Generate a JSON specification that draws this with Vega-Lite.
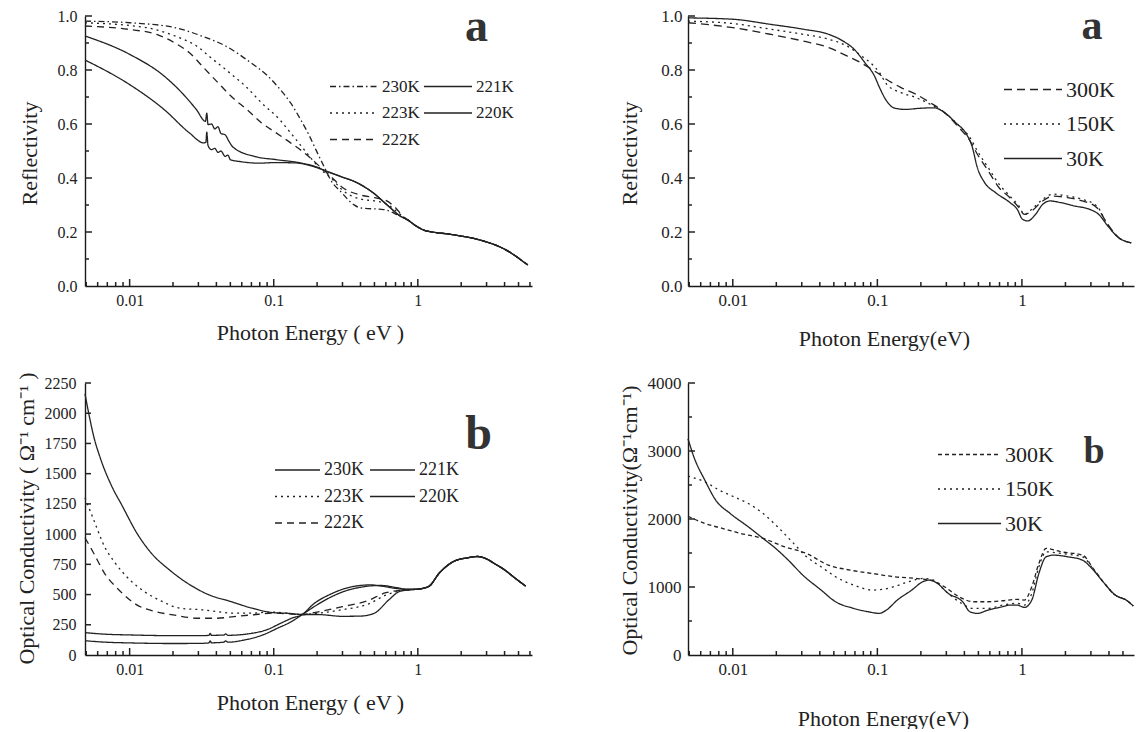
{
  "$schema": "https://vega.github.io/schema/vega-lite/v6.json",
  "background": "white",
  "padding": {"left": 14, "top": 4, "right": 0, "bottom": 0},
  "bounds": "flush",
  "columns": 2,
  "spacing": {"row": 97, "column": 156},
  "resolve": {"scale": {"strokeDash": "independent"}, "legend": {"strokeDash": "independent"}},
  "config": {
    "view": {"stroke": null},
    "font": "Liberation Serif",
    "axis": {"grid": false, "domainColor": "#1a1a1a", "domainWidth": 1.4, "labelFont": "Liberation Serif", "labelColor": "#222", "titleFont": "Liberation Serif", "titleFontWeight": "normal", "titleColor": "#222", "labelOverlap": false, "labelBound": false, "labelFlush": false, "titleAlign": "center", "titleBaseline": "middle"},
    "legend": {"symbolType": "stroke", "symbolStrokeWidth": 1.3, "symbolStrokeColor": "#222", "labelFont": "Liberation Serif", "labelColor": "#222", "padding": 0, "labelOffset": 3, "orient": "none"},
    "text": {"font": "Liberation Serif", "fontWeight": "bold", "align": "center", "baseline": "alphabetic", "color": "#333"},
    "rule": {"color": "#222", "strokeWidth": 1.5},
    "line": {"strokeWidth": 1.3, "color": "#222", "interpolate": "monotone"}
  },
  "concat": [
    {
      "width": 447, "height": 270,
      "data": {"name": "tl"},
      "resolve": {"axis": {"x": "independent", "y": "independent"}},
      "layer": [
        {
          "mark": {"type": "line"},
          "encoding": {
            "x": {"field": "E", "type": "quantitative", "scale": {"type": "log", "domain": [0.0049, 6.2], "nice": false},
              "axis": {"orient": "bottom", "title": "Photon Energy ( eV )", "values": [0.01, 0.1, 1], "ticks": false,
                "labelExpr": "datum.value==0.01 ? '0.01' : datum.value==0.1 ? '0.1' : '1'",
                "labelPadding": 6, "labelFontSize": 16, "titleFontSize": 22, "titleX": 225, "titleY": 46}},
            "y": {"field": "v", "type": "quantitative", "scale": {"domain": [0, 1], "nice": false},
              "axis": {"orient": "left", "title": "Reflectivity", "values": [0, 0.2, 0.4, 0.6, 0.8, 1], "ticks": false,
                "labelExpr": "format(datum.value,'.1f')",
                "labelPadding": 8, "labelFontSize": 16, "titleFontSize": 22, "titleX": -56, "titleY": 137, "titleAngle": 270}},
            "strokeDash": {"field": "s", "type": "nominal",
              "scale": {"domain": ["230K","223K","222K","221K","220K"], "range": [[6,3,1.5,3],[2,4],[7,5],[1,0],[1,0]]},
              "legend": {"title": null, "columns": 2, "legendX": 244, "legendY": 62, "symbolSize": 2304, "clipHeight": 17, "rowPadding": 8.5, "columnPadding": 3, "labelFontSize": 17}}
          }
        },
        {
          "data": {"values": [{"t": 0.01}, {"t": 0.1}, {"t": 1}]},
          "mark": {"type": "rule"},
          "encoding": {
            "x": {"field": "t", "type": "quantitative", "scale": {"type": "log", "domain": [0.0049, 6.2], "nice": false}, "axis": null},
            "y": {"datum": 0, "type": "quantitative", "scale": {"domain": [0, 1], "nice": false}, "axis": null},
            "y2": {"datum": 0.0259}
          }
        },
        {
          "data": {"values": [{"t":0.005},{"t":0.006},{"t":0.007},{"t":0.008},{"t":0.009},{"t":0.02},{"t":0.03},{"t":0.04},{"t":0.05},{"t":0.06},{"t":0.07},{"t":0.08},{"t":0.09},{"t":0.2},{"t":0.3},{"t":0.4},{"t":0.5},{"t":0.6},{"t":0.7},{"t":0.8},{"t":0.9},{"t":2},{"t":3},{"t":4},{"t":5},{"t":6}]},
          "mark": {"type": "rule"},
          "encoding": {
            "x": {"field": "t", "type": "quantitative", "scale": {"type": "log", "domain": [0.0049, 6.2], "nice": false}, "axis": null},
            "y": {"datum": 0, "type": "quantitative", "scale": {"domain": [0, 1], "nice": false}, "axis": null},
            "y2": {"datum": 0.0148}
          }
        },
        {
          "data": {"values": [{"t": 0.2}, {"t": 0.4}, {"t": 0.6}, {"t": 0.8}, {"t": 1}]},
          "mark": {"type": "rule"},
          "encoding": {
            "y": {"field": "t", "type": "quantitative", "scale": {"domain": [0, 1], "nice": false}, "axis": null},
            "x": {"datum": 0.0049, "type": "quantitative", "scale": {"type": "log", "domain": [0.0049, 6.2], "nice": false}, "axis": null},
            "x2": {"datum": 0.00548}
          }
        },
        {
          "data": {"values": [{"t": 0.1}, {"t": 0.3}, {"t": 0.5}, {"t": 0.7}, {"t": 0.9}]},
          "mark": {"type": "rule"},
          "encoding": {
            "y": {"field": "t", "type": "quantitative", "scale": {"domain": [0, 1], "nice": false}, "axis": null},
            "x": {"datum": 0.0049, "type": "quantitative", "scale": {"type": "log", "domain": [0.0049, 6.2], "nice": false}, "axis": null},
            "x2": {"datum": 0.005223}
          }
        },
        {
          "data": {"values": [{}]},
          "mark": {"type": "text", "text": "a", "fontSize": 46},
          "encoding": {
            "x": {"datum": 2.55, "type": "quantitative", "scale": {"type": "log", "domain": [0.0049, 6.2], "nice": false}, "axis": null},
            "y": {"datum": 0.907, "type": "quantitative", "scale": {"domain": [0, 1], "nice": false}, "axis": null}
          }
        }
      ]
    },
    {
      "width": 446, "height": 270,
      "data": {"name": "tr"},
      "resolve": {"axis": {"x": "independent", "y": "independent"}},
      "layer": [
        {
          "mark": {"type": "line"},
          "encoding": {
            "x": {"field": "E", "type": "quantitative", "scale": {"type": "log", "domain": [0.0049, 5.96], "nice": false},
              "axis": {"orient": "bottom", "title": "Photon Energy(eV)", "values": [0.01, 0.1, 1], "ticks": false,
                "labelExpr": "datum.value==0.01 ? '0.01' : datum.value==0.1 ? '0.1' : '1'",
                "labelPadding": 6, "labelFontSize": 17, "titleFontSize": 22, "titleX": 196, "titleY": 52}},
            "y": {"field": "v", "type": "quantitative", "scale": {"domain": [0, 1], "nice": false},
              "axis": {"orient": "left", "title": "Reflectivity", "values": [0, 0.2, 0.4, 0.6, 0.8, 1], "ticks": false,
                "labelExpr": "format(datum.value,'.1f')",
                "labelPadding": 6, "labelFontSize": 17, "titleFontSize": 22, "titleX": -59, "titleY": 137, "titleAngle": 270}},
            "strokeDash": {"field": "s", "type": "nominal",
              "scale": {"domain": ["300K","150K","30K"], "range": [[8,5],[2,4],[1,0]]},
              "legend": {"title": null, "columns": 1, "legendX": 315, "legendY": 63, "symbolSize": 3364, "clipHeight": 21, "rowPadding": 11.5, "labelFontSize": 22}}
          }
        },
        {
          "data": {"values": [{"t": 0.01}, {"t": 0.1}, {"t": 1}]},
          "mark": {"type": "rule"},
          "encoding": {
            "x": {"field": "t", "type": "quantitative", "scale": {"type": "log", "domain": [0.0049, 5.96], "nice": false}, "axis": null},
            "y": {"datum": 0, "type": "quantitative", "scale": {"domain": [0, 1], "nice": false}, "axis": null},
            "y2": {"datum": 0.0259}
          }
        },
        {
          "data": {"values": [{"t":0.005},{"t":0.006},{"t":0.007},{"t":0.008},{"t":0.009},{"t":0.02},{"t":0.03},{"t":0.04},{"t":0.05},{"t":0.06},{"t":0.07},{"t":0.08},{"t":0.09},{"t":0.2},{"t":0.3},{"t":0.4},{"t":0.5},{"t":0.6},{"t":0.7},{"t":0.8},{"t":0.9},{"t":2},{"t":3},{"t":4},{"t":5}]},
          "mark": {"type": "rule"},
          "encoding": {
            "x": {"field": "t", "type": "quantitative", "scale": {"type": "log", "domain": [0.0049, 5.96], "nice": false}, "axis": null},
            "y": {"datum": 0, "type": "quantitative", "scale": {"domain": [0, 1], "nice": false}, "axis": null},
            "y2": {"datum": 0.0148}
          }
        },
        {
          "data": {"values": [{"t": 0.2}, {"t": 0.4}, {"t": 0.6}, {"t": 0.8}, {"t": 1}]},
          "mark": {"type": "rule"},
          "encoding": {
            "y": {"field": "t", "type": "quantitative", "scale": {"domain": [0, 1], "nice": false}, "axis": null},
            "x": {"datum": 0.0049, "type": "quantitative", "scale": {"type": "log", "domain": [0.0049, 5.96], "nice": false}, "axis": null},
            "x2": {"datum": 0.005478}
          }
        },
        {
          "data": {"values": [{"t": 0.1}, {"t": 0.3}, {"t": 0.5}, {"t": 0.7}, {"t": 0.9}]},
          "mark": {"type": "rule"},
          "encoding": {
            "y": {"field": "t", "type": "quantitative", "scale": {"domain": [0, 1], "nice": false}, "axis": null},
            "x": {"datum": 0.0049, "type": "quantitative", "scale": {"type": "log", "domain": [0.0049, 5.96], "nice": false}, "axis": null},
            "x2": {"datum": 0.005222}
          }
        },
        {
          "data": {"values": [{}]},
          "mark": {"type": "text", "text": "a", "fontSize": 42},
          "encoding": {
            "x": {"datum": 3.05, "type": "quantitative", "scale": {"type": "log", "domain": [0.0049, 5.96], "nice": false}, "axis": null},
            "y": {"datum": 0.915, "type": "quantitative", "scale": {"domain": [0, 1], "nice": false}, "axis": null}
          }
        }
      ]
    },
    {
      "width": 447, "height": 272,
      "data": {"name": "bl"},
      "resolve": {"axis": {"x": "independent", "y": "independent"}},
      "layer": [
        {
          "mark": {"type": "line"},
          "encoding": {
            "x": {"field": "E", "type": "quantitative", "scale": {"type": "log", "domain": [0.0049, 6.2], "nice": false},
              "axis": {"orient": "bottom", "title": "Photon Energy ( eV )", "values": [0.01, 0.1, 1], "ticks": false,
                "labelExpr": "datum.value==0.01 ? '0.01' : datum.value==0.1 ? '0.1' : '1'",
                "labelPadding": 6, "labelFontSize": 16, "titleFontSize": 22, "titleX": 225, "titleY": 47}},
            "y": {"field": "v", "type": "quantitative", "scale": {"domain": [0, 2250], "nice": false},
              "axis": {"orient": "left", "title": "Optical Conductivity ( Ω⁻¹ cm⁻¹ )", "values": [0,250,500,750,1000,1250,1500,1750,2000,2250], "ticks": false,
                "labelExpr": "format(datum.value,'d')",
                "labelPadding": 9, "labelFontSize": 16, "titleFontSize": 22, "titleX": -59, "titleY": 135, "titleAngle": 270}},
            "strokeDash": {"field": "s", "type": "nominal",
              "scale": {"domain": ["230K","223K","222K","221K","220K"], "range": [[1,0],[2,4],[7,5],[1,0],[1,0]]},
              "legend": {"title": null, "columns": 2, "legendX": 189, "legendY": 78, "symbolSize": 2025, "clipHeight": 18, "rowPadding": 8.5, "columnPadding": 5, "labelFontSize": 18}}
          }
        },
        {
          "data": {"values": [{"t": 0.01}, {"t": 0.1}, {"t": 1}]},
          "mark": {"type": "rule"},
          "encoding": {
            "x": {"field": "t", "type": "quantitative", "scale": {"type": "log", "domain": [0.0049, 6.2], "nice": false}, "axis": null},
            "y": {"datum": 0, "type": "quantitative", "scale": {"domain": [0, 2250], "nice": false}, "axis": null},
            "y2": {"datum": 58}
          }
        },
        {
          "data": {"values": [{"t":0.005},{"t":0.006},{"t":0.007},{"t":0.008},{"t":0.009},{"t":0.02},{"t":0.03},{"t":0.04},{"t":0.05},{"t":0.06},{"t":0.07},{"t":0.08},{"t":0.09},{"t":0.2},{"t":0.3},{"t":0.4},{"t":0.5},{"t":0.6},{"t":0.7},{"t":0.8},{"t":0.9},{"t":2},{"t":3},{"t":4},{"t":5},{"t":6}]},
          "mark": {"type": "rule"},
          "encoding": {
            "x": {"field": "t", "type": "quantitative", "scale": {"type": "log", "domain": [0.0049, 6.2], "nice": false}, "axis": null},
            "y": {"datum": 0, "type": "quantitative", "scale": {"domain": [0, 2250], "nice": false}, "axis": null},
            "y2": {"datum": 33}
          }
        },
        {
          "data": {"values": [{"t":250},{"t":500},{"t":750},{"t":1000},{"t":1250},{"t":1500},{"t":1750},{"t":2000},{"t":2250}]},
          "mark": {"type": "rule"},
          "encoding": {
            "y": {"field": "t", "type": "quantitative", "scale": {"domain": [0, 2250], "nice": false}, "axis": null},
            "x": {"datum": 0.0049, "type": "quantitative", "scale": {"type": "log", "domain": [0.0049, 6.2], "nice": false}, "axis": null},
            "x2": {"datum": 0.005393}
          }
        },
        {
          "data": {"values": [{}]},
          "mark": {"type": "text", "text": "b", "fontSize": 48},
          "encoding": {
            "x": {"datum": 2.64, "type": "quantitative", "scale": {"type": "log", "domain": [0.0049, 6.2], "nice": false}, "axis": null},
            "y": {"datum": 1702, "type": "quantitative", "scale": {"domain": [0, 2250], "nice": false}, "axis": null}
          }
        }
      ]
    },
    {
      "width": 446, "height": 272,
      "data": {"name": "br"},
      "resolve": {"axis": {"x": "independent", "y": "independent"}},
      "layer": [
        {
          "mark": {"type": "line"},
          "encoding": {
            "x": {"field": "E", "type": "quantitative", "scale": {"type": "log", "domain": [0.0049, 5.96], "nice": false},
              "axis": {"orient": "bottom", "title": "Photon Energy(eV)", "values": [0.01, 0.1, 1], "ticks": false,
                "labelExpr": "datum.value==0.01 ? '0.01' : datum.value==0.1 ? '0.1' : '1'",
                "labelPadding": 6, "labelFontSize": 17, "titleFontSize": 22, "titleX": 195, "titleY": 63}},
            "y": {"field": "v", "type": "quantitative", "scale": {"domain": [0, 4000], "nice": false},
              "axis": {"orient": "left", "title": "Optical Conductivity(Ω⁻¹cm⁻¹)", "values": [0,1000,2000,3000,4000], "ticks": false,
                "labelExpr": "format(datum.value,'d')",
                "labelPadding": 7, "labelFontSize": 17, "titleFontSize": 22, "titleX": -59, "titleY": 137, "titleAngle": 270}},
            "strokeDash": {"field": "s", "type": "nominal",
              "scale": {"domain": ["300K","150K","30K"], "range": [[4,3],[2,4],[1,0]]},
              "legend": {"title": null, "columns": 1, "legendX": 249, "legendY": 61, "symbolSize": 3969, "clipHeight": 21, "rowPadding": 11.5, "labelFontSize": 22}}
          }
        },
        {
          "data": {"values": [{"t": 0.01}, {"t": 0.1}, {"t": 1}]},
          "mark": {"type": "rule"},
          "encoding": {
            "x": {"field": "t", "type": "quantitative", "scale": {"type": "log", "domain": [0.0049, 5.96], "nice": false}, "axis": null},
            "y": {"datum": 0, "type": "quantitative", "scale": {"domain": [0, 4000], "nice": false}, "axis": null},
            "y2": {"datum": 103}
          }
        },
        {
          "data": {"values": [{"t":0.005},{"t":0.006},{"t":0.007},{"t":0.008},{"t":0.009},{"t":0.02},{"t":0.03},{"t":0.04},{"t":0.05},{"t":0.06},{"t":0.07},{"t":0.08},{"t":0.09},{"t":0.2},{"t":0.3},{"t":0.4},{"t":0.5},{"t":0.6},{"t":0.7},{"t":0.8},{"t":0.9},{"t":2},{"t":3},{"t":4},{"t":5}]},
          "mark": {"type": "rule"},
          "encoding": {
            "x": {"field": "t", "type": "quantitative", "scale": {"type": "log", "domain": [0.0049, 5.96], "nice": false}, "axis": null},
            "y": {"datum": 0, "type": "quantitative", "scale": {"domain": [0, 4000], "nice": false}, "axis": null},
            "y2": {"datum": 59}
          }
        },
        {
          "data": {"values": [{"t":1000},{"t":2000},{"t":3000},{"t":4000}]},
          "mark": {"type": "rule"},
          "encoding": {
            "y": {"field": "t", "type": "quantitative", "scale": {"domain": [0, 4000], "nice": false}, "axis": null},
            "x": {"datum": 0.0049, "type": "quantitative", "scale": {"type": "log", "domain": [0.0049, 5.96], "nice": false}, "axis": null},
            "x2": {"datum": 0.005478}
          }
        },
        {
          "data": {"values": [{"t":500},{"t":1500},{"t":2500},{"t":3500}]},
          "mark": {"type": "rule"},
          "encoding": {
            "y": {"field": "t", "type": "quantitative", "scale": {"domain": [0, 4000], "nice": false}, "axis": null},
            "x": {"datum": 0.0049, "type": "quantitative", "scale": {"type": "log", "domain": [0.0049, 5.96], "nice": false}, "axis": null},
            "x2": {"datum": 0.005222}
          }
        },
        {
          "data": {"values": [{}]},
          "mark": {"type": "text", "text": "b", "fontSize": 38},
          "encoding": {
            "x": {"datum": 3.15, "type": "quantitative", "scale": {"type": "log", "domain": [0.0049, 5.96], "nice": false}, "axis": null},
            "y": {"datum": 2824, "type": "quantitative", "scale": {"domain": [0, 4000], "nice": false}, "axis": null}
          }
        }
      ]
    }
  ],
  "datasets": {
    "tl": [
      {"s":"230K","E":0.0049,"v":0.981},{"s":"230K","E":0.01,"v":0.975},{"s":"230K","E":0.0206,"v":0.957},{"s":"230K","E":0.0327,"v":0.923},{"s":"230K","E":0.0463,"v":0.889},{"s":"230K","E":0.0693,"v":0.827},{"s":"230K","E":0.09,"v":0.78},{"s":"230K","E":0.11,"v":0.73},{"s":"230K","E":0.131,"v":0.678},{"s":"230K","E":0.156,"v":0.61},{"s":"230K","E":0.175,"v":0.561},{"s":"230K","E":0.196,"v":0.505},{"s":"230K","E":0.226,"v":0.437},{"s":"230K","E":0.25,"v":0.39},{"s":"230K","E":0.29,"v":0.351},{"s":"230K","E":0.36,"v":0.301},{"s":"230K","E":0.4,"v":0.289},{"s":"230K","E":0.58,"v":0.283},{"s":"230K","E":0.72,"v":0.264},{"s":"230K","E":0.8,"v":0.252},
      {"s":"230K","E":0.85,"v":0.245},{"s":"230K","E":0.95,"v":0.226},{"s":"230K","E":1.1,"v":0.207},{"s":"230K","E":1.3,"v":0.199},{"s":"230K","E":1.6,"v":0.193},{"s":"230K","E":2.0,"v":0.185},{"s":"230K","E":2.5,"v":0.175},{"s":"230K","E":3.0,"v":0.163},{"s":"230K","E":3.6,"v":0.148},{"s":"230K","E":4.2,"v":0.13},{"s":"230K","E":4.8,"v":0.11},{"s":"230K","E":5.4,"v":0.09},{"s":"230K","E":5.8,"v":0.078},
      {"s":"223K","E":0.0049,"v":0.975},{"s":"223K","E":0.013,"v":0.957},{"s":"223K","E":0.0206,"v":0.926},{"s":"223K","E":0.0291,"v":0.889},{"s":"223K","E":0.0367,"v":0.845},{"s":"223K","E":0.0463,"v":0.802},{"s":"223K","E":0.0654,"v":0.734},{"s":"223K","E":0.0824,"v":0.678},{"s":"223K","E":0.11,"v":0.616},{"s":"223K","E":0.131,"v":0.567},{"s":"223K","E":0.156,"v":0.517},{"s":"223K","E":0.185,"v":0.468},{"s":"223K","E":0.214,"v":0.43},{"s":"223K","E":0.25,"v":0.4},{"s":"223K","E":0.3,"v":0.355},{"s":"223K","E":0.4,"v":0.322},{"s":"223K","E":0.5,"v":0.315},{"s":"223K","E":0.6,"v":0.305},{"s":"223K","E":0.7,"v":0.28},{"s":"223K","E":0.8,"v":0.255},
      {"s":"223K","E":0.85,"v":0.245},{"s":"223K","E":0.95,"v":0.226},{"s":"223K","E":1.1,"v":0.207},{"s":"223K","E":1.3,"v":0.199},{"s":"223K","E":1.6,"v":0.193},{"s":"223K","E":2.0,"v":0.185},{"s":"223K","E":2.5,"v":0.175},{"s":"223K","E":3.0,"v":0.163},{"s":"223K","E":3.6,"v":0.148},{"s":"223K","E":4.2,"v":0.13},{"s":"223K","E":4.8,"v":0.11},{"s":"223K","E":5.4,"v":0.09},{"s":"223K","E":5.8,"v":0.078},
      {"s":"222K","E":0.0049,"v":0.963},{"s":"222K","E":0.01,"v":0.95},{"s":"222K","E":0.0154,"v":0.932},{"s":"222K","E":0.0206,"v":0.9},{"s":"222K","E":0.026,"v":0.864},{"s":"222K","E":0.0327,"v":0.808},{"s":"222K","E":0.0412,"v":0.752},{"s":"222K","E":0.0519,"v":0.697},{"s":"222K","E":0.0654,"v":0.653},{"s":"222K","E":0.0824,"v":0.604},{"s":"222K","E":0.104,"v":0.567},{"s":"222K","E":0.131,"v":0.53},{"s":"222K","E":0.175,"v":0.48},{"s":"222K","E":0.208,"v":0.443},{"s":"222K","E":0.25,"v":0.405},{"s":"222K","E":0.3,"v":0.365},{"s":"222K","E":0.4,"v":0.337},{"s":"222K","E":0.5,"v":0.327},{"s":"222K","E":0.6,"v":0.317},{"s":"222K","E":0.7,"v":0.29},{"s":"222K","E":0.8,"v":0.255},
      {"s":"222K","E":0.85,"v":0.245},{"s":"222K","E":0.95,"v":0.226},{"s":"222K","E":1.1,"v":0.207},{"s":"222K","E":1.3,"v":0.199},{"s":"222K","E":1.6,"v":0.193},{"s":"222K","E":2.0,"v":0.185},{"s":"222K","E":2.5,"v":0.175},{"s":"222K","E":3.0,"v":0.163},{"s":"222K","E":3.6,"v":0.148},{"s":"222K","E":4.2,"v":0.13},{"s":"222K","E":4.8,"v":0.11},{"s":"222K","E":5.4,"v":0.09},{"s":"222K","E":5.8,"v":0.078},
      {"s":"221K","E":0.0049,"v":0.926},{"s":"221K","E":0.01,"v":0.858},{"s":"221K","E":0.0174,"v":0.777},{"s":"221K","E":0.0231,"v":0.715},{"s":"221K","E":0.0291,"v":0.653},{"s":"221K","E":0.0336,"v":0.61},{"s":"221K","E":0.0343,"v":0.64},{"s":"221K","E":0.035,"v":0.598},{"s":"221K","E":0.037,"v":0.6},{"s":"221K","E":0.039,"v":0.582},{"s":"221K","E":0.041,"v":0.59},{"s":"221K","E":0.043,"v":0.565},{"s":"221K","E":0.046,"v":0.56},{"s":"221K","E":0.049,"v":0.535},{"s":"221K","E":0.052,"v":0.515},{"s":"221K","E":0.0734,"v":0.48},{"s":"221K","E":0.104,"v":0.468},{"s":"221K","E":0.156,"v":0.455},{"s":"221K","E":0.2,"v":0.44},{"s":"221K","E":0.22,"v":0.43},
      {"s":"221K","E":0.29,"v":0.406},{"s":"221K","E":0.38,"v":0.382},{"s":"221K","E":0.49,"v":0.345},{"s":"221K","E":0.61,"v":0.301},{"s":"221K","E":0.76,"v":0.258},
      {"s":"221K","E":0.85,"v":0.245},{"s":"221K","E":0.95,"v":0.226},{"s":"221K","E":1.1,"v":0.207},{"s":"221K","E":1.3,"v":0.199},{"s":"221K","E":1.6,"v":0.193},{"s":"221K","E":2.0,"v":0.185},{"s":"221K","E":2.5,"v":0.175},{"s":"221K","E":3.0,"v":0.163},{"s":"221K","E":3.6,"v":0.148},{"s":"221K","E":4.2,"v":0.13},{"s":"221K","E":4.8,"v":0.11},{"s":"221K","E":5.4,"v":0.09},{"s":"221K","E":5.8,"v":0.078},
      {"s":"220K","E":0.0049,"v":0.837},{"s":"220K","E":0.01,"v":0.746},{"s":"220K","E":0.0174,"v":0.653},{"s":"220K","E":0.026,"v":0.567},{"s":"220K","E":0.0327,"v":0.53},{"s":"220K","E":0.0338,"v":0.532},{"s":"220K","E":0.0343,"v":0.57},{"s":"220K","E":0.035,"v":0.52},{"s":"220K","E":0.037,"v":0.505},{"s":"220K","E":0.039,"v":0.51},{"s":"220K","E":0.041,"v":0.495},{"s":"220K","E":0.043,"v":0.5},{"s":"220K","E":0.046,"v":0.48},{"s":"220K","E":0.048,"v":0.485},{"s":"220K","E":0.05,"v":0.468},{"s":"220K","E":0.06,"v":0.46},{"s":"220K","E":0.08,"v":0.455},{"s":"220K","E":0.1,"v":0.457},{"s":"220K","E":0.14,"v":0.456},{"s":"220K","E":0.2,"v":0.438},{"s":"220K","E":0.22,"v":0.43},
      {"s":"220K","E":0.29,"v":0.406},{"s":"220K","E":0.38,"v":0.382},{"s":"220K","E":0.49,"v":0.345},{"s":"220K","E":0.61,"v":0.301},{"s":"220K","E":0.76,"v":0.258},
      {"s":"220K","E":0.85,"v":0.245},{"s":"220K","E":0.95,"v":0.226},{"s":"220K","E":1.1,"v":0.207},{"s":"220K","E":1.3,"v":0.199},{"s":"220K","E":1.6,"v":0.193},{"s":"220K","E":2.0,"v":0.185},{"s":"220K","E":2.5,"v":0.175},{"s":"220K","E":3.0,"v":0.163},{"s":"220K","E":3.6,"v":0.148},{"s":"220K","E":4.2,"v":0.13},{"s":"220K","E":4.8,"v":0.11},{"s":"220K","E":5.4,"v":0.09},{"s":"220K","E":5.8,"v":0.078}
    ],
    "tr": [
      {"s":"30K","E":0.0049,"v":0.993},{"s":"30K","E":0.01,"v":0.988},{"s":"30K","E":0.0183,"v":0.969},{"s":"30K","E":0.0308,"v":0.951},{"s":"30K","E":0.0461,"v":0.932},{"s":"30K","E":0.058,"v":0.907},{"s":"30K","E":0.069,"v":0.877},{"s":"30K","E":0.082,"v":0.827},{"s":"30K","E":0.0955,"v":0.778},{"s":"30K","E":0.1035,"v":0.735},{"s":"30K","E":0.116,"v":0.685},{"s":"30K","E":0.13,"v":0.66},{"s":"30K","E":0.155,"v":0.654},{"s":"30K","E":0.195,"v":0.658},{"s":"30K","E":0.246,"v":0.66},{"s":"30K","E":0.292,"v":0.642},{"s":"30K","E":0.348,"v":0.605},{"s":"30K","E":0.414,"v":0.562},{"s":"30K","E":0.451,"v":0.519},{"s":"30K","E":0.492,"v":0.438},{"s":"30K","E":0.552,"v":0.383},{"s":"30K","E":0.656,"v":0.346},{"s":"30K","E":0.826,"v":0.309},{"s":"30K","E":0.928,"v":0.284},{"s":"30K","E":1.01,"v":0.247},{"s":"30K","E":1.1,"v":0.241},{"s":"30K","E":1.24,"v":0.265},{"s":"30K","E":1.39,"v":0.302},{"s":"30K","E":1.56,"v":0.315},{"s":"30K","E":1.85,"v":0.309},{"s":"30K","E":2.33,"v":0.296},{"s":"30K","E":2.94,"v":0.284},{"s":"30K","E":3.4,"v":0.265},{"s":"30K","E":3.93,"v":0.222},{"s":"30K","E":4.67,"v":0.179},{"s":"30K","E":5.7,"v":0.16},
      {"s":"300K","E":0.0049,"v":0.975},{"s":"300K","E":0.01,"v":0.957},{"s":"300K","E":0.0183,"v":0.932},{"s":"300K","E":0.0308,"v":0.907},{"s":"300K","E":0.0461,"v":0.883},{"s":"300K","E":0.0616,"v":0.852},{"s":"300K","E":0.0732,"v":0.833},{"s":"300K","E":0.092,"v":0.802},{"s":"300K","E":0.1035,"v":0.784},{"s":"300K","E":0.116,"v":0.765},{"s":"300K","E":0.146,"v":0.735},{"s":"300K","E":0.185,"v":0.71},{"s":"300K","E":0.232,"v":0.679},{"s":"300K","E":0.292,"v":0.642},{"s":"300K","E":0.368,"v":0.586},{"s":"300K","E":0.438,"v":0.537},{"s":"300K","E":0.492,"v":0.488},{"s":"300K","E":0.585,"v":0.426},{"s":"300K","E":0.695,"v":0.364},{"s":"300K","E":0.826,"v":0.327},{"s":"300K","E":0.955,"v":0.29},{"s":"300K","E":1.04,"v":0.265},{"s":"300K","E":1.17,"v":0.278},{"s":"300K","E":1.39,"v":0.315},{"s":"300K","E":1.65,"v":0.333},{"s":"300K","E":2.08,"v":0.327},{"s":"300K","E":2.62,"v":0.315},{"s":"300K","E":3.3,"v":0.29},{"s":"300K","E":3.93,"v":0.228},{"s":"300K","E":4.67,"v":0.179},{"s":"300K","E":5.7,"v":0.16},
      {"s":"150K","E":0.0049,"v":0.981},{"s":"150K","E":0.01,"v":0.972},{"s":"150K","E":0.0183,"v":0.951},{"s":"150K","E":0.0308,"v":0.932},{"s":"150K","E":0.0461,"v":0.914},{"s":"150K","E":0.0616,"v":0.889},{"s":"150K","E":0.0776,"v":0.852},{"s":"150K","E":0.092,"v":0.821},{"s":"150K","E":0.1035,"v":0.79},{"s":"150K","E":0.116,"v":0.747},{"s":"150K","E":0.146,"v":0.716},{"s":"150K","E":0.185,"v":0.698},{"s":"150K","E":0.232,"v":0.673},{"s":"150K","E":0.292,"v":0.642},{"s":"150K","E":0.368,"v":0.593},{"s":"150K","E":0.438,"v":0.549},{"s":"150K","E":0.492,"v":0.5},{"s":"150K","E":0.585,"v":0.438},{"s":"150K","E":0.695,"v":0.377},{"s":"150K","E":0.826,"v":0.333},{"s":"150K","E":0.955,"v":0.296},{"s":"150K","E":1.04,"v":0.265},{"s":"150K","E":1.17,"v":0.284},{"s":"150K","E":1.39,"v":0.321},{"s":"150K","E":1.65,"v":0.34},{"s":"150K","E":2.08,"v":0.333},{"s":"150K","E":2.62,"v":0.321},{"s":"150K","E":3.3,"v":0.296},{"s":"150K","E":3.93,"v":0.225},{"s":"150K","E":4.67,"v":0.179},{"s":"150K","E":5.7,"v":0.16}
    ],
    "bl": [
      {"s":"230K","E":0.0049,"v":2160},{"s":"230K","E":0.0052,"v":2000},{"s":"230K","E":0.00562,"v":1813},{"s":"230K","E":0.0063,"v":1619},{"s":"230K","E":0.0075,"v":1398},{"s":"230K","E":0.0089,"v":1232},{"s":"230K","E":0.0112,"v":1010},{"s":"230K","E":0.0141,"v":844},{"s":"230K","E":0.0188,"v":706},{"s":"230K","E":0.0251,"v":595},{"s":"230K","E":0.0355,"v":498},{"s":"230K","E":0.0501,"v":443},{"s":"230K","E":0.0708,"v":387},{"s":"230K","E":0.1,"v":350},{"s":"230K","E":0.126,"v":345},{"s":"230K","E":0.158,"v":335},{"s":"230K","E":0.2,"v":335},{"s":"230K","E":0.3,"v":320},{"s":"230K","E":0.4,"v":322},{"s":"230K","E":0.5,"v":346},{"s":"230K","E":0.63,"v":457},{"s":"230K","E":0.75,"v":526},{"s":"230K","E":0.9,"v":540},
      {"s":"230K","E":1.0,"v":545},{"s":"230K","E":1.19,"v":567},{"s":"230K","E":1.41,"v":678},{"s":"230K","E":1.78,"v":775},{"s":"230K","E":2.24,"v":805},{"s":"230K","E":2.6,"v":815},{"s":"230K","E":3.0,"v":795},{"s":"230K","E":3.35,"v":761},{"s":"230K","E":3.98,"v":706},{"s":"230K","E":4.73,"v":636},{"s":"230K","E":5.6,"v":570},
      {"s":"223K","E":0.0049,"v":1300},{"s":"223K","E":0.00562,"v":1121},{"s":"223K","E":0.00668,"v":899},{"s":"223K","E":0.00794,"v":761},{"s":"223K","E":0.01,"v":623},{"s":"223K","E":0.0126,"v":526},{"s":"223K","E":0.0168,"v":443},{"s":"223K","E":0.0224,"v":387},{"s":"223K","E":0.0316,"v":374},{"s":"223K","E":0.0398,"v":360},{"s":"223K","E":0.0531,"v":346},{"s":"223K","E":0.0708,"v":346},{"s":"223K","E":0.0944,"v":355},{"s":"223K","E":0.126,"v":345},{"s":"223K","E":0.158,"v":335},{"s":"223K","E":0.2,"v":345},{"s":"223K","E":0.3,"v":375},{"s":"223K","E":0.45,"v":420},{"s":"223K","E":0.6,"v":495},{"s":"223K","E":0.75,"v":530},{"s":"223K","E":0.9,"v":540},
      {"s":"223K","E":1.0,"v":545},{"s":"223K","E":1.19,"v":567},{"s":"223K","E":1.41,"v":678},{"s":"223K","E":1.78,"v":775},{"s":"223K","E":2.24,"v":805},{"s":"223K","E":2.6,"v":815},{"s":"223K","E":3.0,"v":795},{"s":"223K","E":3.35,"v":761},{"s":"223K","E":3.98,"v":706},{"s":"223K","E":4.73,"v":636},{"s":"223K","E":5.6,"v":570},
      {"s":"222K","E":0.0049,"v":970},{"s":"222K","E":0.00562,"v":844},{"s":"222K","E":0.00668,"v":678},{"s":"222K","E":0.0084,"v":540},{"s":"222K","E":0.0112,"v":415},{"s":"222K","E":0.015,"v":360},{"s":"222K","E":0.02,"v":332},{"s":"222K","E":0.0299,"v":304},{"s":"222K","E":0.0398,"v":304},{"s":"222K","E":0.0531,"v":318},{"s":"222K","E":0.0708,"v":332},{"s":"222K","E":0.1,"v":346},{"s":"222K","E":0.158,"v":335},{"s":"222K","E":0.2,"v":355},{"s":"222K","E":0.3,"v":400},{"s":"222K","E":0.45,"v":450},{"s":"222K","E":0.6,"v":515},{"s":"222K","E":0.75,"v":535},{"s":"222K","E":0.9,"v":540},
      {"s":"222K","E":1.0,"v":545},{"s":"222K","E":1.19,"v":567},{"s":"222K","E":1.41,"v":678},{"s":"222K","E":1.78,"v":775},{"s":"222K","E":2.24,"v":805},{"s":"222K","E":2.6,"v":815},{"s":"222K","E":3.0,"v":795},{"s":"222K","E":3.35,"v":761},{"s":"222K","E":3.98,"v":706},{"s":"222K","E":4.73,"v":636},{"s":"222K","E":5.6,"v":570},
      {"s":"221K","E":0.0049,"v":185},{"s":"221K","E":0.0068,"v":172},{"s":"221K","E":0.01,"v":166},{"s":"221K","E":0.02,"v":160},{"s":"221K","E":0.03,"v":160},{"s":"221K","E":0.0355,"v":162},{"s":"221K","E":0.0362,"v":178},{"s":"221K","E":0.037,"v":163},{"s":"221K","E":0.045,"v":165},{"s":"221K","E":0.0465,"v":175},{"s":"221K","E":0.048,"v":163},{"s":"221K","E":0.0708,"v":180},{"s":"221K","E":0.0891,"v":208},{"s":"221K","E":0.112,"v":263},{"s":"221K","E":0.133,"v":304},{"s":"221K","E":0.158,"v":335},{"s":"221K","E":0.188,"v":420},{"s":"221K","E":0.25,"v":505},{"s":"221K","E":0.335,"v":560},{"s":"221K","E":0.4,"v":575},{"s":"221K","E":0.473,"v":580},{"s":"221K","E":0.562,"v":570},{"s":"221K","E":0.708,"v":550},{"s":"221K","E":0.841,"v":542},
      {"s":"221K","E":1.0,"v":545},{"s":"221K","E":1.19,"v":567},{"s":"221K","E":1.41,"v":678},{"s":"221K","E":1.78,"v":775},{"s":"221K","E":2.24,"v":805},{"s":"221K","E":2.6,"v":815},{"s":"221K","E":3.0,"v":795},{"s":"221K","E":3.35,"v":761},{"s":"221K","E":3.98,"v":706},{"s":"221K","E":4.73,"v":636},{"s":"221K","E":5.6,"v":570},
      {"s":"220K","E":0.0049,"v":118},{"s":"220K","E":0.0068,"v":106},{"s":"220K","E":0.01,"v":100},{"s":"220K","E":0.02,"v":95},{"s":"220K","E":0.03,"v":96},{"s":"220K","E":0.0355,"v":100},{"s":"220K","E":0.0362,"v":116},{"s":"220K","E":0.037,"v":101},{"s":"220K","E":0.045,"v":106},{"s":"220K","E":0.0465,"v":117},{"s":"220K","E":0.048,"v":106},{"s":"220K","E":0.063,"v":125},{"s":"220K","E":0.084,"v":166},{"s":"220K","E":0.106,"v":221},{"s":"220K","E":0.133,"v":277},{"s":"220K","E":0.158,"v":335},{"s":"220K","E":0.188,"v":395},{"s":"220K","E":0.25,"v":480},{"s":"220K","E":0.335,"v":540},{"s":"220K","E":0.4,"v":560},{"s":"220K","E":0.473,"v":572},{"s":"220K","E":0.562,"v":575},{"s":"220K","E":0.708,"v":558},{"s":"220K","E":0.841,"v":545},
      {"s":"220K","E":1.0,"v":545},{"s":"220K","E":1.19,"v":567},{"s":"220K","E":1.41,"v":678},{"s":"220K","E":1.78,"v":775},{"s":"220K","E":2.24,"v":805},{"s":"220K","E":2.6,"v":815},{"s":"220K","E":3.0,"v":795},{"s":"220K","E":3.35,"v":761},{"s":"220K","E":3.98,"v":706},{"s":"220K","E":4.73,"v":636},{"s":"220K","E":5.6,"v":570}
    ],
    "br": [
      {"s":"30K","E":0.0049,"v":3180},{"s":"30K","E":0.00538,"v":2913},{"s":"30K","E":0.00641,"v":2570},{"s":"30K","E":0.00762,"v":2277},{"s":"30K","E":0.0096,"v":2081},{"s":"30K","E":0.0128,"v":1885},{"s":"30K","E":0.0162,"v":1714},{"s":"30K","E":0.0192,"v":1591},{"s":"30K","E":0.0242,"v":1395},{"s":"30K","E":0.0305,"v":1175},{"s":"30K","E":0.0408,"v":955},{"s":"30K","E":0.0514,"v":783},{"s":"30K","E":0.0687,"v":685},{"s":"30K","E":0.0865,"v":636},{"s":"30K","E":0.103,"v":612},{"s":"30K","E":0.1156,"v":661},{"s":"30K","E":0.1375,"v":808},{"s":"30K","E":0.173,"v":955},{"s":"30K","E":0.206,"v":1077},{"s":"30K","E":0.231,"v":1102},{"s":"30K","E":0.26,"v":1053},{"s":"30K","E":0.309,"v":906},{"s":"30K","E":0.389,"v":783},{"s":"30K","E":0.437,"v":636},{"s":"30K","E":0.49,"v":612},{"s":"30K","E":0.584,"v":661},{"s":"30K","E":0.736,"v":710},{"s":"30K","E":0.826,"v":734},{"s":"30K","E":0.928,"v":734},{"s":"30K","E":1.04,"v":700},{"s":"30K","E":1.17,"v":808},{"s":"30K","E":1.31,"v":1200},{"s":"30K","E":1.47,"v":1444},{"s":"30K","E":1.65,"v":1469},{"s":"30K","E":2.08,"v":1444},{"s":"30K","E":2.62,"v":1395},{"s":"30K","E":3.12,"v":1248},{"s":"30K","E":3.72,"v":1053},{"s":"30K","E":4.42,"v":881},{"s":"30K","E":5.26,"v":808},{"s":"30K","E":5.9,"v":720},
      {"s":"150K","E":0.0049,"v":2630},{"s":"150K","E":0.00641,"v":2546},{"s":"150K","E":0.00807,"v":2424},{"s":"150K","E":0.0102,"v":2326},{"s":"150K","E":0.0128,"v":2228},{"s":"150K","E":0.0162,"v":2081},{"s":"150K","E":0.0204,"v":1885},{"s":"150K","E":0.0257,"v":1665},{"s":"150K","E":0.0324,"v":1444},{"s":"150K","E":0.0408,"v":1297},{"s":"150K","E":0.0514,"v":1151},{"s":"150K","E":0.0687,"v":1028},{"s":"150K","E":0.0917,"v":955},{"s":"150K","E":0.109,"v":965},{"s":"150K","E":0.13,"v":1004},{"s":"150K","E":0.164,"v":1077},{"s":"150K","E":0.206,"v":1126},{"s":"150K","E":0.245,"v":1102},{"s":"150K","E":0.291,"v":955},{"s":"150K","E":0.367,"v":783},{"s":"150K","E":0.463,"v":685},{"s":"150K","E":0.584,"v":685},{"s":"150K","E":0.736,"v":734},{"s":"150K","E":0.928,"v":759},{"s":"150K","E":1.04,"v":734},{"s":"150K","E":1.17,"v":906},{"s":"150K","E":1.31,"v":1297},{"s":"150K","E":1.47,"v":1518},{"s":"150K","E":1.86,"v":1493},{"s":"150K","E":2.63,"v":1444},{"s":"150K","E":3.12,"v":1260},{"s":"150K","E":3.72,"v":1053},{"s":"150K","E":4.42,"v":881},{"s":"150K","E":5.26,"v":808},{"s":"150K","E":5.9,"v":720},
      {"s":"300K","E":0.0049,"v":2040},{"s":"300K","E":0.00641,"v":1934},{"s":"300K","E":0.00855,"v":1860},{"s":"300K","E":0.0114,"v":1787},{"s":"300K","E":0.0162,"v":1714},{"s":"300K","E":0.0229,"v":1591},{"s":"300K","E":0.0324,"v":1493},{"s":"300K","E":0.0458,"v":1322},{"s":"300K","E":0.0648,"v":1248},{"s":"300K","E":0.0917,"v":1200},{"s":"300K","E":0.13,"v":1151},{"s":"300K","E":0.184,"v":1126},{"s":"300K","E":0.231,"v":1102},{"s":"300K","E":0.291,"v":1004},{"s":"300K","E":0.367,"v":857},{"s":"300K","E":0.463,"v":783},{"s":"300K","E":0.584,"v":783},{"s":"300K","E":0.736,"v":798},{"s":"300K","E":0.928,"v":818},{"s":"300K","E":1.04,"v":808},{"s":"300K","E":1.17,"v":1004},{"s":"300K","E":1.31,"v":1346},{"s":"300K","E":1.47,"v":1567},{"s":"300K","E":1.86,"v":1518},{"s":"300K","E":2.63,"v":1469},{"s":"300K","E":3.12,"v":1270},{"s":"300K","E":3.72,"v":1053},{"s":"300K","E":4.42,"v":881},{"s":"300K","E":5.26,"v":808},{"s":"300K","E":5.9,"v":720}
    ]
  }
}
